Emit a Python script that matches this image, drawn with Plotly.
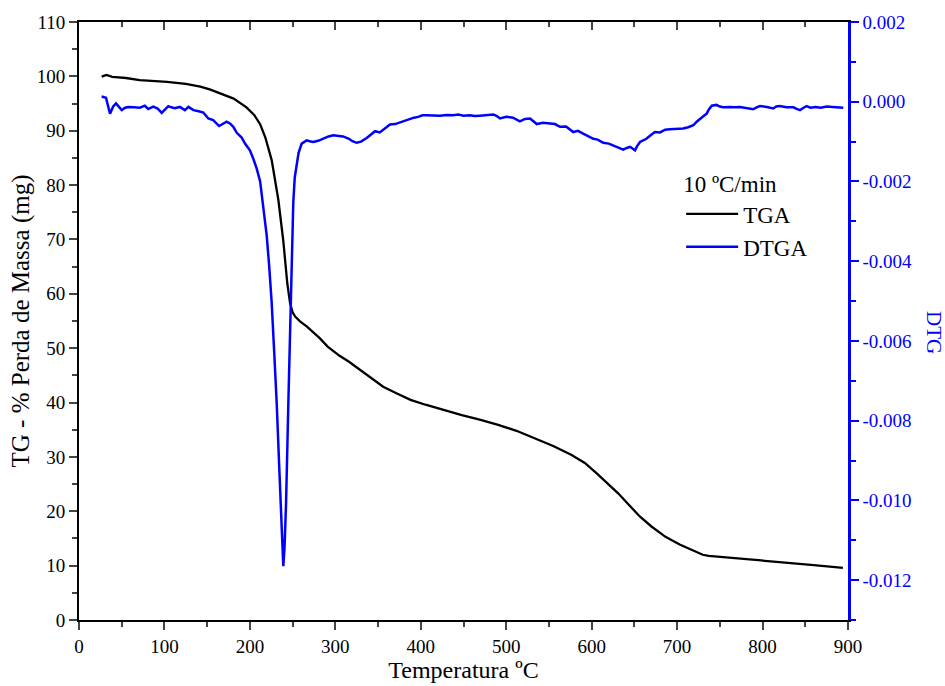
import plotly.graph_objects as go

# ---- data ----
tg_temp = [26.5, 32, 39, 55, 71, 90, 103, 125, 142, 153, 165, 181, 196, 205, 212, 218,
           225.5, 230, 233.3, 239, 243.8, 247, 250, 253, 259, 266.5, 282, 291, 305, 316,
           330, 342, 356, 371.5, 388, 405.5, 425, 448, 470, 490.6, 512, 533, 555, 576,
           592, 605.6, 618, 631, 644, 656.6, 670, 686.4, 703, 720.4, 730, 737, 760, 790,
           831, 860, 894]
tg_mass = [99.95, 100.25, 99.9, 99.7, 99.3, 99.1, 99.0, 98.6, 98.1, 97.6, 96.9, 95.9, 94.3,
           92.9, 91.2, 88.8, 84.6, 80.8, 77.3, 69.9, 61.9, 58.3, 56.6, 55.8, 54.9, 54.0,
           51.8, 50.3, 48.6, 47.5, 45.9, 44.5, 42.9, 41.7, 40.5, 39.6, 38.7, 37.7, 36.8,
           35.9, 34.8, 33.4, 32.0, 30.4, 28.9, 27.0, 25.2, 23.3, 21.1, 19.0, 17.2, 15.3,
           13.9, 12.6, 12.0, 11.8, 11.5, 11.1, 10.5, 10.1, 9.6]

dtg_temp = [26.5, 31.6, 36.3, 40, 43.3, 47, 50, 54, 57.7, 64, 71.4, 77, 81, 87, 92, 96.8,
            100.5, 104.5, 108, 112, 118, 124, 128, 134, 140, 145.5, 151.4, 157, 164, 168,
            172.8, 177, 180.6, 184.6, 190.4, 194.3, 200, 204, 208, 212, 214, 217, 219.7,
            222.5, 225.5, 228.5, 231.4, 235.3, 237.5, 239.1, 240.5, 242.3, 245, 247.8,
            250.8, 252.5, 254.8, 257, 260.6, 264.5, 266.5, 270, 274, 280, 286, 292, 297.6,
            303, 309, 316, 320, 325, 330, 336.7, 341, 346.5, 352, 358, 364, 370, 375.7,
            381, 387.4, 392, 397, 402, 407, 414, 422.5, 430, 438, 444, 450, 457.6, 463,
            469, 477, 485, 489, 492.7, 500, 508, 516, 522, 528, 535.7, 543, 551, 557, 563,
            570, 578.5, 584, 590, 598, 602, 607, 613.6, 620, 625, 631, 637, 641, 645,
            650.7, 653, 656.6, 664, 669, 674, 680, 686, 691.7, 700, 707, 713, 719, 723,
            727, 731, 734.6, 737, 740.5, 746, 750, 754, 762, 767, 773.6, 780, 785, 789,
            793, 797, 805, 812.6, 816, 820, 828, 836, 840, 843.8, 848, 851.5, 856, 862,
            868, 875, 882, 888, 894.5]
dtg_val_milli = [0.13, 0.10, -0.30, -0.12, -0.04, -0.12, -0.21, -0.15, -0.13, -0.14, -0.15,
                 -0.10, -0.18, -0.12, -0.17, -0.28, -0.20, -0.11, -0.14, -0.16, -0.13, -0.21,
                 -0.13, -0.21, -0.24, -0.27, -0.42, -0.46, -0.61, -0.55, -0.50, -0.55, -0.63,
                 -0.78, -0.90, -1.05, -1.22, -1.43, -1.68, -2.0, -2.35, -2.8, -3.36, -4.1,
                 -5.04, -6.3, -7.57, -9.67, -10.9, -11.65, -11.2, -10.09, -7.57, -5.04, -2.52,
                 -1.9, -1.51, -1.28, -1.05, -0.99, -0.97, -0.99, -1.01, -0.98, -0.92, -0.87,
                 -0.84, -0.85, -0.87, -0.93, -0.99, -1.03, -1.0, -0.91, -0.84, -0.74, -0.77,
                 -0.67, -0.57, -0.56, -0.52, -0.48, -0.42, -0.40, -0.38, -0.34, -0.34, -0.35,
                 -0.35, -0.33, -0.34, -0.32, -0.35, -0.34, -0.36, -0.35, -0.33, -0.32, -0.36,
                 -0.42, -0.38, -0.40, -0.49, -0.43, -0.42, -0.56, -0.53, -0.55, -0.56, -0.63,
                 -0.62, -0.76, -0.73, -0.80, -0.88, -0.93, -0.95, -1.03, -1.05, -1.09, -1.15,
                 -1.20, -1.16, -1.13, -1.22, -1.12, -1.01, -0.93, -0.84, -0.76, -0.77, -0.70,
                 -0.69, -0.68, -0.67, -0.64, -0.59, -0.50, -0.42, -0.36, -0.30, -0.20, -0.10,
                 -0.08, -0.12, -0.14, -0.13, -0.14, -0.13, -0.15, -0.16, -0.19, -0.14, -0.11,
                 -0.13, -0.17, -0.12, -0.11, -0.14, -0.14, -0.18, -0.21, -0.15, -0.11, -0.15,
                 -0.13, -0.15, -0.12, -0.13, -0.14, -0.15]
dtg_val = [v / 1000.0 for v in dtg_val_milli]

x_ticks = [0, 100, 200, 300, 400, 500, 600, 700, 800, 900]
left_ticks = list(range(0, 111, 10))
right_ticks = [0.002, 0.000, -0.002, -0.004, -0.006, -0.008, -0.010, -0.012]
right_labels = ["0.002", "0.000", "-0.002", "-0.004", "-0.006", "-0.008", "-0.010", "-0.012"]

FONT = "Liberation Serif"
BLUE = "#0000ff"

fig = go.Figure()
fig.add_trace(go.Scatter(x=tg_temp, y=tg_mass, mode="lines", name="TGA",
                         line=dict(color="black", width=2.3), xaxis="x", yaxis="y"))
fig.add_trace(go.Scatter(x=dtg_temp, y=dtg_val, mode="lines", name="DTGA",
                         line=dict(color=BLUE, width=2.5), xaxis="x2", yaxis="y2"))

fig.update_layout(
    width=945, height=686,
    margin=dict(l=79, r=97, t=22, b=66),
    plot_bgcolor="white", paper_bgcolor="white",
    font=dict(family=FONT, size=19, color="black"),
    showlegend=True,
    legend=dict(x=0.783, y=0.765, xanchor="left", yanchor="top",
                bgcolor="rgba(0,0,0,0)", font=dict(family=FONT, size=23),
                title=dict(text="10 ºC/min", font=dict(family=FONT, size=23)),
                tracegroupgap=0, itemwidth=52),
    xaxis=dict(range=[0, 900], tickvals=x_ticks, ticks="outside", ticklen=8, tickwidth=2,
               showline=True, linecolor="black", linewidth=2, showgrid=False, zeroline=False,
               automargin=False,
               minor=dict(ticks="outside", ticklen=5, tickwidth=2, dtick=50, showgrid=False),
               tickfont=dict(family=FONT, size=19),
               title=dict(text="Temperatura ºC", font=dict(family=FONT, size=24), standoff=5)),
    xaxis2=dict(range=[0, 900], overlaying="x", side="top", anchor="y2", matches="x",
                tickvals=x_ticks, ticks="inside", ticklen=8, tickwidth=2, showticklabels=False,
                showline=True, linecolor="black", linewidth=2, showgrid=False, zeroline=False,
                automargin=False,
                minor=dict(ticks="inside", ticklen=5, tickwidth=2, dtick=50, showgrid=False)),
    yaxis=dict(range=[0, 110], tickvals=left_ticks, ticks="outside", ticklen=8, tickwidth=2,
               showline=True, linecolor="black", linewidth=2, showgrid=False, zeroline=False,
               automargin=False,
               minor=dict(ticks="outside", ticklen=5, tickwidth=2, dtick=5, showgrid=False),
               tickfont=dict(family=FONT, size=19),
               title=dict(text="TG - % Perda de Massa (mg)", font=dict(family=FONT, size=25),
                          standoff=0)),
    yaxis2=dict(range=[-0.013, 0.002], overlaying="y", side="right", anchor="x2",
                tickvals=right_ticks, ticktext=right_labels, ticks="outside", ticklen=8,
                tickwidth=2, tickcolor=BLUE, showline=True, linecolor=BLUE, linewidth=2.5,
                showgrid=False, zeroline=False, automargin=False,
                minor=dict(ticks="outside", ticklen=5, tickwidth=2, dtick=0.001,
                           tickcolor=BLUE, showgrid=False),
                tickfont=dict(family=FONT, size=19, color=BLUE)),
    annotations=[dict(text="DTG", textangle=90, x=1.13, y=0.48, xref="paper", yref="paper",
                      showarrow=False, font=dict(family=FONT, size=21, color=BLUE))],
)

fig.write_html("out.html", config={"displayModeBar": False},
               post_script="document.body.style.margin='0';document.body.style.overflow='hidden';")
